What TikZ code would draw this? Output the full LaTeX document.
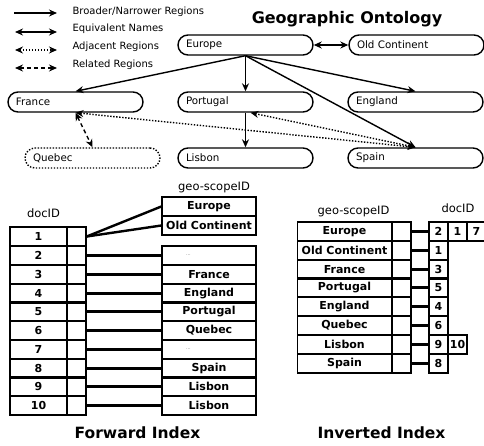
\documentclass[tikz,border=0pt]{standalone}
\usepackage{fontspec}
\setmainfont{DejaVu Sans}
\usepackage{tikz}
\usetikzlibrary{arrows.meta}
\tikzset{
    region/.style={draw, line width=1.4pt, rounded corners=10pt, minimum height=20pt,
        text width=119pt, inner xsep=8pt, inner ysep=2pt, align=left,
        font=\fontsize{10.3}{12}\selectfont},
    broader/.style={-{Stealth[length=8pt,width=7pt]}, line width=1.4pt},
    equivalent/.style={{Stealth[length=8pt,width=7pt]}-{Stealth[length=8pt,width=7pt]}, line width=1.4pt},
    adjacent/.style={equivalent, dash pattern=on 1.4pt off 1.6pt},
    related/.style={equivalent, dash pattern=on 4pt off 3pt},
    legend/.style={anchor=west, font=\fontsize{10}{12}\selectfont},
    cell/.style={draw, line width=1.4pt, minimum height=18.8pt, inner sep=0pt,
        font=\bfseries\fontsize{11}{13}\selectfont},
    idcell/.style={cell, minimum width=57pt},
    ptrcell/.style={cell, minimum width=19pt},
    scopecell/.style={cell, minimum width=94pt},
    gapcell/.style={scopecell, text width=46pt, align=left, font=\tiny, text=gray},
    postcell/.style={cell, minimum width=19pt},
    ptrline/.style={draw=black, line width=2.4pt},
    colhead/.style={font=\fontsize{11.5}{13}\selectfont},
    heading/.style={anchor=base, font=\bfseries\fontsize{15.5}{18}\selectfont},
}

\begin{document}
\begin{tikzpicture}[x=1pt, y=-1pt]
    \useasboundingbox (0,0) rectangle (484,445);

    % legend
    \node[legend] at (69, 12) (lg1) {Broader/Narrower Regions};
    \node[legend] at (69, 29) (lg2) {Equivalent Names};
    \node[legend] at (69, 47) (lg3) {Adjacent Regions};
    \node[legend] at (69, 65) (lg4) {Related Regions};
    \draw[broader]    ([shift={(-55pt,-1pt)}]lg1.west) -- ([shift={(-12pt,-1pt)}]lg1.west);
    \draw[equivalent] ([shift={(-54pt,-3pt)}]lg2.west) -- ([shift={(-12pt,-3pt)}]lg2.west);
    \draw[adjacent]   ([shift={(-54pt,-3pt)}]lg3.west) -- ([shift={(-12pt,-3pt)}]lg3.west);
    \draw[related]    ([shift={(-54pt,-3pt)}]lg4.west) -- ([shift={(-12pt,-3pt)}]lg4.west);

    % ontology
    \node[heading, font=\bfseries\fontsize{16}{19}\selectfont] at (347, 23) (onto) {Geographic Ontology};
    \node[region] at (245.5, 45)  (europe)   {Europe};
    \node[region] at (416.5, 45)  (oldcont)  {Old Continent};
    \node[region] at (75.5, 102)  (france)   {France};
    \node[region] at (245.5, 102) (portugal) {Portugal};
    \node[region] at (415.5, 102) (england)  {England};
    \node[region, dash pattern=on 1.4pt off 1.6pt] at (92.5, 158) (quebec) {Quebec};
    \node[region] at (245.5, 158) (lisbon)   {Lisbon};
    \node[region] at (415.5, 158) (spain)    {Spain};

    \draw[equivalent] (europe) -- (oldcont);
    \draw[broader] (europe.south) -- (france.north);
    \draw[broader] (europe.south) -- (portugal.north);
    \draw[broader] (europe.south) -- (england.north);
    \draw[broader] (europe.south) -- (spain.north);
    \draw[broader] (portugal.south) -- (lisbon.north);
    \draw[adjacent] (france.south) -- (spain.north);
    \draw[adjacent] ([xshift=5pt]portugal.south) -- (spain.north);
    \draw[related] (france.south) -- (quebec.north);

    % forward index
    \node[colhead] at (43.5, 213) (fdhead) {docID};
    \node[colhead] at (214, 187)  (fshead) {geo-scopeID};

    \node[idcell] at (38.5, 236.5) (fd1)  {1};
    \node[idcell] at (38.5, 255.5) (fd2)  {2};
    \node[idcell] at (38.5, 274.5) (fd3)  {3};
    \node[idcell] at (38.5, 293.5) (fd4)  {4};
    \node[idcell] at (38.5, 311.5) (fd5)  {5};
    \node[idcell] at (38.5, 330.5) (fd6)  {6};
    \node[idcell] at (38.5, 349.5) (fd7)  {7};
    \node[idcell] at (38.5, 368.5) (fd8)  {8};
    \node[idcell] at (38.5, 386.5) (fd9)  {9};
    \node[idcell] at (38.5, 405.5) (fd10) {10};

    \node[ptrcell] at (76.5, 236.5) (fp1)  {};
    \node[ptrcell] at (76.5, 255.5) (fp2)  {};
    \node[ptrcell] at (76.5, 274.5) (fp3)  {};
    \node[ptrcell] at (76.5, 293.5) (fp4)  {};
    \node[ptrcell] at (76.5, 311.5) (fp5)  {};
    \node[ptrcell] at (76.5, 330.5) (fp6)  {};
    \node[ptrcell] at (76.5, 349.5) (fp7)  {};
    \node[ptrcell] at (76.5, 368.5) (fp8)  {};
    \node[ptrcell] at (76.5, 386.5) (fp9)  {};
    \node[ptrcell] at (76.5, 405.5) (fp10) {};

    \node[scopecell] at (209, 206.5) (fs1a) {Europe};
    \node[scopecell] at (209, 225.5) (fs1b) {Old Continent};
    \node[gapcell]   at (209, 255.5) (fs2)  {...};
    \node[scopecell] at (209, 274.5) (fs3)  {France};
    \node[scopecell] at (209, 293.5) (fs4)  {England};
    \node[scopecell] at (209, 311.5) (fs5)  {Portugal};
    \node[scopecell] at (209, 330.5) (fs6)  {Quebec};
    \node[gapcell]   at (209, 349.5) (fs7)  {...};
    \node[scopecell] at (209, 368.5) (fs8)  {Spain};
    \node[scopecell] at (209, 386.5) (fs9)  {Lisbon};
    \node[scopecell] at (209, 405.5) (fs10) {Lisbon};

    \draw[ptrline] (fp1.east) -- (fs1a.west);
    \draw[ptrline] (fp1.east) -- (fs1b.west);
    \draw[ptrline] (fp2.east) -- (fs2.west);
    \draw[ptrline] (fp3.east) -- (fs3.west);
    \draw[ptrline] (fp4.east) -- (fs4.west);
    \draw[ptrline] (fp5.east) -- (fs5.west);
    \draw[ptrline] (fp6.east) -- (fs6.west);
    \draw[ptrline] (fp7.east) -- (fs7.west);
    \draw[ptrline] (fp8.east) -- (fs8.west);
    \draw[ptrline] (fp9.east) -- (fs9.west);
    \draw[ptrline] (fp10.east) -- (fs10.west);

    \node[heading] at (137.5, 438) (fwd) {Forward Index};

    % inverted index
    \node[colhead] at (353.5, 211) (ishead) {geo-scopeID};
    \node[colhead] at (458, 208)   (idhead) {docID};

    \node[scopecell] at (344.5, 231.5) (is1) {Europe};
    \node[scopecell] at (344.5, 250.5) (is2) {Old Continent};
    \node[scopecell] at (344.5, 269.5) (is3) {France};
    \node[scopecell] at (344.5, 287.5) (is4) {Portugal};
    \node[scopecell] at (344.5, 306.5) (is5) {England};
    \node[scopecell] at (344.5, 325.5) (is6) {Quebec};
    \node[scopecell] at (344.5, 344.5) (is7) {Lisbon};
    \node[scopecell] at (344.5, 363.5) (is8) {Spain};

    \node[ptrcell] at (401.5, 231.5) (ip1) {};
    \node[ptrcell] at (401.5, 250.5) (ip2) {};
    \node[ptrcell] at (401.5, 269.5) (ip3) {};
    \node[ptrcell] at (401.5, 287.5) (ip4) {};
    \node[ptrcell] at (401.5, 306.5) (ip5) {};
    \node[ptrcell] at (401.5, 325.5) (ip6) {};
    \node[ptrcell] at (401.5, 344.5) (ip7) {};
    \node[ptrcell] at (401.5, 363.5) (ip8) {};

    \node[postcell] at (438.5, 231.5) (ib1)  {2};
    \node[postcell] at (457.5, 231.5) (ib1b) {1};
    \node[postcell] at (476.5, 231.5) (ib1c) {7};
    \node[postcell] at (438.5, 250.5) (ib2)  {1};
    \node[postcell] at (438.5, 269.5) (ib3)  {3};
    \node[postcell] at (438.5, 287.5) (ib4)  {5};
    \node[postcell] at (438.5, 306.5) (ib5)  {4};
    \node[postcell] at (438.5, 325.5) (ib6)  {6};
    \node[postcell] at (438.5, 344.5) (ib7)  {9};
    \node[postcell] at (457.5, 344.5) (ib7b) {10};
    \node[postcell] at (438.5, 363.5) (ib8)  {8};

    \draw[ptrline] (ip1.east) -- (ib1.west);
    \draw[ptrline] (ip2.east) -- (ib2.west);
    \draw[ptrline] (ip3.east) -- (ib3.west);
    \draw[ptrline] (ip4.east) -- (ib4.west);
    \draw[ptrline] (ip5.east) -- (ib5.west);
    \draw[ptrline] (ip6.east) -- (ib6.west);
    \draw[ptrline] (ip7.east) -- (ib7.west);
    \draw[ptrline] (ip8.east) -- (ib8.west);

    \node[heading] at (381.5, 438) (inv) {Inverted Index};
\end{tikzpicture}
\end{document}
